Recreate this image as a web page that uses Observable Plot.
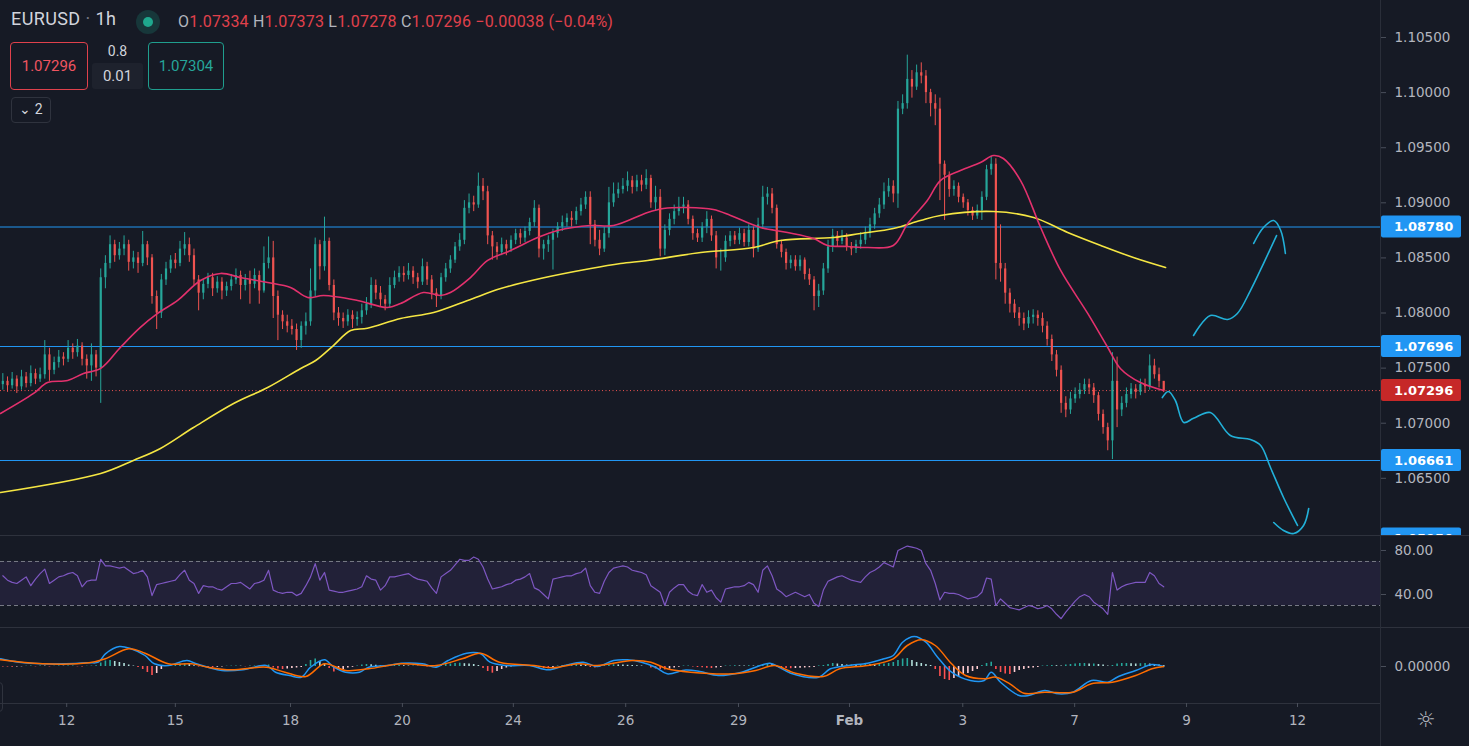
<!DOCTYPE html>
<html><head><meta charset="utf-8">
<script src="https://cdn.jsdelivr.net/npm/d3@7"></script>
<script src="https://cdn.jsdelivr.net/npm/@observablehq/plot@0.6"></script>
<style>
html,body{margin:0;padding:0;background:#161a25;}
#wrap{position:relative;width:1469px;height:746px;overflow:hidden;background:#161a25;font-family:Roboto,"Noto Sans",sans-serif;}
.pane{position:absolute;left:0;width:1469px;}
.hl{position:absolute;left:0;width:1469px;height:1px;background:#2e323d;}
.vl{position:absolute;left:1380px;top:0;width:1px;height:746px;background:#2a2e39;}
.ov{position:absolute;box-sizing:border-box;}
</style></head>
<body><div id="wrap"></div>
<script>
// ---------------- data ----------------
const W = 1469;
const firstOpen = 1.0735;
const closes = [1.0738,1.0734,1.0740,1.0733,1.0742,1.0736,1.0745,1.0740,1.0744,1.0762,
1.0748,1.0755,1.0760,1.0758,1.0768,1.0764,1.0770,1.0758,1.0752,1.0762,
1.0750,1.0832,1.0845,1.0862,1.0852,1.0858,1.0862,1.0846,1.0850,1.0845,
1.0862,1.0850,1.0815,1.0800,1.0830,1.0840,1.0848,1.0845,1.0858,1.0862,
1.0852,1.0830,1.0818,1.0826,1.0832,1.0822,1.0828,1.0820,1.0824,1.0830,
1.0834,1.0825,1.0830,1.0826,1.0834,1.0820,1.0845,1.0850,1.0815,1.0798,
1.0792,1.0788,1.0785,1.0775,1.0788,1.0792,1.0820,1.0862,1.0842,1.0865,
1.0825,1.0800,1.0795,1.0792,1.0798,1.0794,1.0796,1.0802,1.0808,1.0825,
1.0818,1.0812,1.0808,1.0825,1.0832,1.0836,1.0834,1.0838,1.0832,1.0828,
1.0842,1.0830,1.0818,1.0815,1.0832,1.0840,1.0848,1.0860,1.0866,1.0895,
1.0900,1.0898,1.0915,1.0910,1.0870,1.0860,1.0855,1.0862,1.0858,1.0866,
1.0872,1.0868,1.0874,1.0882,1.0895,1.0858,1.0862,1.0866,1.0872,1.0878,
1.0882,1.0886,1.0884,1.0892,1.0898,1.0905,1.0880,1.0866,1.0858,1.0872,
1.0900,1.0908,1.0912,1.0915,1.0920,1.0914,1.0920,1.0916,1.0922,1.0900,
1.0905,1.0858,1.0875,1.0885,1.0892,1.0896,1.0898,1.0885,1.0872,1.0868,
1.0878,1.0885,1.0870,1.0850,1.0850,1.0865,1.0870,1.0866,1.0872,1.0864,
1.0875,1.0858,1.0880,1.0905,1.0908,1.0895,1.0862,1.0855,1.0845,1.0848,
1.0842,1.0848,1.0835,1.0830,1.0815,1.0820,1.0840,1.0860,1.0870,1.0865,
1.0868,1.0860,1.0858,1.0862,1.0866,1.0872,1.0880,1.0890,1.0898,1.0910,
1.0915,1.0908,1.0985,1.0990,1.1012,1.1005,1.1018,1.1015,1.1000,1.0990,
1.0985,1.0935,1.0925,1.0912,1.0915,1.0905,1.0900,1.0893,1.0888,1.0893,
1.0905,1.0930,1.0935,1.0845,1.0840,1.0818,1.0808,1.0800,1.0795,1.0790,
1.0796,1.0798,1.0795,1.0788,1.0776,1.0762,1.0748,1.0718,1.0712,1.0722,
1.0726,1.0730,1.0735,1.0732,1.0725,1.0708,1.0696,1.0684,1.0738,1.0712,
1.0718,1.0726,1.0731,1.0728,1.0735,1.0733,1.0752,1.0744,1.0738,1.07296];
const highs = [1.0745,1.0742,1.0746,1.0743,1.0748,1.0746,1.0752,1.0749,1.0750,1.0775,
1.0768,1.0760,1.0766,1.0764,1.0775,1.0772,1.0776,1.0773,1.0762,1.0772,
1.0766,1.0840,1.0852,1.0870,1.0866,1.0864,1.0870,1.0866,1.0856,1.0855,
1.0874,1.0865,1.0853,1.0820,1.0835,1.0846,1.0852,1.0854,1.0865,1.0873,
1.0868,1.0858,1.0834,1.0830,1.0836,1.0836,1.0833,1.0832,1.0828,1.0835,
1.0840,1.0838,1.0835,1.0838,1.0840,1.0838,1.0860,1.0869,1.0865,1.0820,
1.0802,1.0798,1.0794,1.0790,1.0792,1.0800,1.0840,1.0868,1.0866,1.0887,
1.0868,1.0830,1.0805,1.0800,1.0803,1.0802,1.0801,1.0808,1.0814,1.0832,
1.0830,1.0824,1.0816,1.0832,1.0838,1.0842,1.0842,1.0845,1.0842,1.0836,
1.0849,1.0846,1.0834,1.0822,1.0836,1.0845,1.0852,1.0864,1.0872,1.0902,
1.0908,1.0906,1.0927,1.0922,1.0915,1.0874,1.0864,1.0868,1.0866,1.0870,
1.0876,1.0876,1.0878,1.0886,1.0902,1.0898,1.0866,1.0870,1.0876,1.0882,
1.0888,1.0890,1.0892,1.0896,1.0904,1.0910,1.0910,1.0884,1.0875,1.0878,
1.0914,1.0918,1.0918,1.0922,1.0928,1.0924,1.0925,1.0925,1.0930,1.0925,
1.0915,1.0912,1.0880,1.0890,1.0898,1.0905,1.0905,1.0902,1.0888,1.0876,
1.0882,1.0892,1.0888,1.0874,1.0858,1.0870,1.0874,1.0874,1.0877,1.0876,
1.0880,1.0878,1.0886,1.0915,1.0914,1.0913,1.0898,1.0866,1.0858,1.0852,
1.0852,1.0852,1.0850,1.0840,1.0833,1.0826,1.0845,1.0866,1.0876,1.0874,
1.0875,1.0872,1.0864,1.0866,1.0873,1.0878,1.0886,1.0895,1.0904,1.0918,
1.0922,1.0920,1.0992,1.0998,1.1034,1.1020,1.1025,1.1027,1.1020,1.1003,
1.0998,1.0995,1.0938,1.0928,1.0920,1.0918,1.0908,1.0903,1.0896,1.0898,
1.0910,1.0934,1.0942,1.0940,1.0880,1.0845,1.0822,1.0812,1.0805,1.0800,
1.0802,1.0803,1.0802,1.0800,1.0792,1.0780,1.0766,1.0752,1.0724,1.0728,
1.0732,1.0736,1.0740,1.0740,1.0736,1.0728,1.0712,1.0700,1.0764,1.0760,
1.0724,1.0732,1.0736,1.0735,1.0740,1.0740,1.0762,1.0758,1.0750,1.07373];
const lows = [1.0730,1.0728,1.0731,1.0727,1.0730,1.0732,1.0733,1.0735,1.0737,1.0740,
1.0738,1.0744,1.0750,1.0752,1.0755,1.0758,1.0760,1.0752,1.0740,1.0738,
1.0742,1.0718,1.0822,1.0840,1.0846,1.0848,1.0852,1.0838,1.0840,1.0836,
1.0842,1.0843,1.0808,1.0785,1.0795,1.0825,1.0836,1.0840,1.0842,1.0852,
1.0846,1.0825,1.0802,1.0812,1.0822,1.0815,1.0818,1.0812,1.0815,1.0820,
1.0826,1.0812,1.0820,1.0808,1.0822,1.0808,1.0818,1.0840,1.0795,1.0775,
1.0785,1.0782,1.0780,1.0766,1.0768,1.0780,1.0788,1.0815,1.0830,1.0838,
1.0820,1.0793,1.0788,1.0786,1.0788,1.0786,1.0788,1.0790,1.0798,1.0804,
1.0812,1.0806,1.0802,1.0804,1.0822,1.0828,1.0828,1.0830,1.0826,1.0822,
1.0825,1.0825,1.0812,1.0805,1.0812,1.0828,1.0836,1.0845,1.0856,1.0862,
1.0890,1.0892,1.0895,1.0902,1.0862,1.0848,1.0848,1.0852,1.0852,1.0855,
1.0862,1.0862,1.0864,1.0870,1.0878,1.0850,1.0848,1.0855,1.0839,1.0868,
1.0874,1.0878,1.0878,1.0880,1.0888,1.0894,1.0862,1.0860,1.0852,1.0855,
1.0868,1.0896,1.0904,1.0908,1.0910,1.0908,1.0910,1.0910,1.0912,1.0895,
1.0893,1.0851,1.0852,1.0870,1.0880,1.0888,1.0890,1.0880,1.0866,1.0864,
1.0864,1.0872,1.0865,1.0840,1.0838,1.0846,1.0860,1.0862,1.0862,1.0860,
1.0860,1.0850,1.0855,1.0876,1.0898,1.0890,1.0858,1.0850,1.0839,1.0840,
1.0838,1.0838,1.0830,1.0825,1.0802,1.0805,1.0816,1.0836,1.0855,1.0860,
1.0862,1.0856,1.0852,1.0854,1.0858,1.0862,1.0868,1.0876,1.0886,1.0894,
1.0905,1.0900,1.0895,1.0980,1.0985,1.0995,1.1002,1.1008,1.0990,1.0978,
1.0970,1.0902,1.0884,1.0905,1.0906,1.0900,1.0895,1.0888,1.0884,1.0885,
1.0884,1.0902,1.0925,1.0830,1.0828,1.0808,1.0800,1.0795,1.0788,1.0784,
1.0786,1.0790,1.0788,1.0782,1.0770,1.0756,1.0742,1.0709,1.0705,1.0708,
1.0718,1.0722,1.0726,1.0726,1.0718,1.0702,1.0690,1.0675,1.0667,1.0696,
1.0706,1.0714,1.0722,1.0722,1.0725,1.0727,1.0730,1.0740,1.0732,1.07278];

// moving averages: [bar, price]
const maFast = [[0,1.07088],[7.1,1.07270],[10.1,1.07369],[14.4,1.07388],[17.8,1.07451],[21.5,1.07497],[25.7,1.07687],[30,1.07869],[33.7,1.07996],[38,1.08114],[42.9,1.08295],[47.2,1.08359],[51.5,1.08322],[57.3,1.08277],[62.2,1.08232],[65.9,1.08141],[69.3,1.08159],[76.6,1.08114],[83,1.08050],[85.8,1.08086],[90.7,1.08186],[94.4,1.08159],[96.5,1.08186],[100.8,1.08322],[104.5,1.08477],[109.4,1.08567],[115.2,1.08685],[119.5,1.08749],[126.6,1.08794],[131.5,1.08794],[138.8,1.08912],[142.2,1.08948],[147.4,1.08957],[152.9,1.08939],[156.6,1.08885],[163,1.08776],[168.8,1.08731],[174.4,1.08676],[177.4,1.08613],[181.7,1.08604],[186,1.08594],[191.5,1.08613],[194.6,1.08812],[198.8,1.09021],[201.6,1.09202],[205.9,1.09293],[210.2,1.09366],[213,1.09429],[215.1,1.09402],[218.8,1.09202],[223.1,1.08776],[227.4,1.08386],[233.2,1.07996],[237.5,1.07687],[240.2,1.07497],[244.5,1.07369],[249.5,1.07297]];
const maSlow = [[0,1.06371],[21.5,1.06544],[28.5,1.06662],[34.3,1.06771],[41.4,1.06961],[50,1.07179],[57.3,1.07324],[64.4,1.07497],[67.6,1.07569],[71.4,1.07705],[75.1,1.07841],[78.7,1.07861],[85.8,1.07950],[92.9,1.08005],[100.2,1.08114],[107.3,1.08222],[115.8,1.08313],[126.6,1.08404],[133,1.08449],[138.8,1.08477],[150.2,1.08549],[161.5,1.08594],[167.3,1.08658],[178.7,1.08685],[184.5,1.08722],[191.5,1.08767],[197.3,1.08839],[201.6,1.08885],[213,1.08921],[221.6,1.08867],[228.9,1.08731],[236,1.08613],[243,1.08504],[249.9,1.08413]];

// hand-drawn forecast strokes: [bar, price]
const drawUp = [[255.9,1.07796],[259.5,1.07977],[263.2,1.07941],[265.3,1.07996],[268.1,1.08204],[270.9,1.08449],[273.7,1.08703]];
const drawUpTip = [[268.8,1.08631],[270.9,1.08776],[273.1,1.08839],[274.6,1.08749],[275.6,1.08540]];
const drawDown = [[249.2,1.07233],[250.5,1.07288],[252.0,1.07206],[253.8,1.07007],[255.9,1.07044],[259.5,1.07097],[263.8,1.06889],[268.1,1.06852],[270.3,1.06798],[272.4,1.06598],[275.2,1.06326],[278.2,1.06072]];
const drawDownTip = [[273.1,1.06099],[275.2,1.06027],[277.4,1.05999],[279.5,1.06072],[280.6,1.06226]];

const levels = [1.08780, 1.07696, 1.06661];
const levelHidden = 1.05950;
const lastPrice = 1.07296;
const priceTicks = [1.065,1.070,1.075,1.080,1.085,1.090,1.095,1.100,1.105];
const priceDomain = [1.05981, 1.10836];

const rsi = [57,53,51,50,53,56,48,54,59,63,
50,53,56,57,59,60,57,47,52,53,
53,72,66,66,65,64,65,62,59,60,
62,56,39,49,50,51,52,53,58,62,
53,50,41,48,47,47,45,44,47,50,
50,51,48,45,50,51,53,62,44,42,
41,42,42,39,41,48,56,68,53,60,
44,43,42,42,43,44,45,47,57,54,
53,44,48,56,56,57,58,59,56,54,
53,52,46,41,56,59,62,67,72,71,
71,74,72,65,54,45,46,47,49,50,
53,54,56,59,46,44,40,36,54,55,
56,57,57,59,60,64,48,42,41,52,
60,64,65,66,65,62,61,60,58,48,
45,42,30,42,46,49,49,43,40,39,
49,42,44,37,33,45,46,47,47,48,
51,49,42,62,66,57,45,42,38,40,
42,40,38,40,32,29,44,52,54,56,
57,55,53,52,51,56,60,62,65,69,
67,65,80,82,84,83,82,80,68,62,
50,35,42,41,41,40,38,36,37,38,
42,55,54,30,36,32,28,27,26,28,
30,29,27,28,30,27,22,18,24,29,
34,38,40,38,33,30,27,22,60,44,
47,49,50,51,51,51,60,57,50,47];
const rsiBand = [30, 70];
const rsiTicks = [40, 80];
const rsiDomain = [10.9, 91.8];

const macdLine = [[0,0.00077],[4,0.00043],[9,0.00027],[14,0.00027],[19,0.00037],[21,0.00043],[22.5,0.00127],[25.5,0.0020],[28,0.00177],[31,0.0011],[33,0.00027],[36,0.0001],[40,0.0006],[42,0.00027],[44.5,-0.00007],[47.5,-0.0004],[52,-0.00033],[57,0.0001],[59,-0.00057],[62,-0.0009],[64.5,-0.00107],[66.5,-0.00007],[69.5,0.00067],[71.5,-0.00007],[74,-0.00057],[77,-0.00057],[79,-0.00007],[83,0.0001],[86,0.00033],[90.5,0.00027],[93.5,-0.00007],[96,0.0006],[100,0.00133],[103,0.00127],[105,0.00043],[108.5,0.0001],[113.5,0.0001],[117.5,-0.00033],[121,0.0001],[125,0.00043],[128,0],[131.5,0.0006],[134.5,0.00067],[137.5,0.00043],[140.5,-0.00007],[143,-0.00073],[147,-0.00035],[150,-0.0005],[154,-0.0009],[159,-0.00057],[165,0.00033],[167,-0.00007],[169.5,-0.00067],[175.5,-0.00107],[178,-0.00023],[182,0.0001],[186,0.00033],[189.5,0.00077],[191.5,0.0011],[193.5,0.00243],[196,0.003],[198.5,0.00243],[201,0.00093],[204,-0.00057],[208,-0.0014],[211,-0.0014],[212.5,-0.00057],[214.5,-0.00157],[218.5,-0.0029],[220.5,-0.0029],[224,-0.0024],[227,-0.00273],[230,-0.00257],[234,-0.0014],[237.5,-0.00157],[239.5,-0.00107],[243.5,-0.0004],[247,0.0002],[249.5,0]];
const signalLine = [[0,0.00067],[9,0.00027],[19,0.00037],[22.5,0.00077],[27.5,0.00177],[31,0.00133],[36,0.00027],[41,0.00027],[44.5,-0.00007],[49.5,-0.00033],[57,-0.00007],[61,-0.00057],[65.5,-0.001],[69.5,0.00027],[74,-0.0004],[79,-0.00023],[86,0.00027],[93.5,0.0001],[99,0.00077],[103,0.00133],[107,0.00043],[114.5,0.0001],[118.5,-0.00013],[124,0.00027],[128,0.0001],[135.5,0.0006],[139.5,0.00043],[143,-0.00023],[148,-0.00057],[157,-0.00073],[162,-0.0004],[166,0.0001],[170.5,-0.00067],[176.5,-0.001],[180,-0.00023],[186,0.0001],[191.5,0.00077],[194.5,0.0021],[197.5,0.00267],[200.5,0.0021],[204,0.00027],[207,-0.0009],[211,-0.00123],[213.5,-0.00107],[216.5,-0.00173],[219.5,-0.00267],[224,-0.00257],[230,-0.00257],[234,-0.00173],[238.5,-0.00157],[243.5,-0.0009],[247,-0.00023],[249.5,0]];
const hist = [-0.00005,-0.00005,-0.00008,-0.00006,-0.00003,0.00003,0.00004,-0.00003,0.00005,0.00004,
-0.00004,0.00003,0.00005,0.00003,0.00004,0.00005,-0.00003,-0.00006,0.00002,0.00004,
0.00008,0.00035,0.00055,0.0006,0.0005,0.0004,0.0003,0.00015,0.00005,-0.0001,
-0.0003,-0.0006,-0.0009,-0.0007,-0.0003,0.00008,0.00015,0.0002,0.00025,0.00027,
0.0002,0.00008,-0.00005,-0.00008,-0.0001,-0.00012,-0.00008,-0.00005,0.00003,0.00004,
0.00005,0.00003,-0.00003,0.00004,0.00005,0.00003,0.00008,0.00015,-0.00015,-0.00025,
-0.0003,-0.00025,-0.0002,-0.00015,-0.0001,0.0002,0.0006,0.00075,0.0005,0.0003,
-0.0002,-0.00055,-0.0004,-0.0003,-0.00015,-0.00008,0.00005,0.00015,0.0002,0.00018,
0.00012,0.00005,-0.00005,0.00008,0.0001,0.00012,0.00008,0.00005,0.00006,0.00003,
0.00002,-0.00005,-0.0001,-0.00004,0.0001,0.0002,0.00025,0.0003,0.00033,0.00028,
0.00025,0.0002,0.0001,-0.0002,-0.0005,-0.00067,-0.0005,-0.0003,-0.00015,-0.00005,
0.00003,0.00005,0.00006,0.00008,-0.00008,-0.00015,-0.0002,-0.00022,-0.0001,0.00005,
0.0001,0.00015,0.00018,0.0002,0.00015,0.0001,-0.0001,-0.00015,-0.00005,0.0001,
0.00015,0.00018,0.00016,0.00015,0.00012,0.0001,0.00008,0.00005,0,-0.00015,
-0.00025,-0.0003,-0.00035,-0.00025,-0.00015,-0.00008,0.00005,0.00005,-0.00005,-0.0001,
-0.00012,-0.00018,-0.0002,-0.00015,-0.0001,0.00005,0.00005,0.00008,0.00006,0.00005,
0.00008,0.00005,0.00008,0.0002,0.00025,0.0002,-0.00005,-0.00015,-0.0002,-0.00022,
-0.0002,-0.00018,-0.00015,-0.00012,-0.0001,0.00006,0.0001,0.0002,0.0003,0.00025,
0.0002,0.00015,0.00015,0.00012,0.00015,0.0002,0.00018,0.00015,0.0002,0.00025,
0.0003,0.0004,0.0006,0.00075,0.0008,0.0006,0.0004,0.0003,0.0002,0.0001,
-0.0003,-0.001,-0.0013,-0.0014,-0.0012,-0.001,-0.0008,-0.0007,-0.0005,-0.0003,
0.0001,0.0003,0.00043,-0.0003,-0.0006,-0.00075,-0.0008,-0.0006,-0.0004,-0.0003,
-0.0002,-0.00015,-0.0001,0.00005,0.00008,0.0001,0.00008,0.00005,0.00015,0.0002,
0.00025,0.0003,0.0003,0.00025,0.00025,0.0002,0.00015,0.00005,0.0001,0.00025,
0.0003,0.0003,0.00028,0.00025,0.00028,0.0003,0.00025,0.0002,0.00015,0.0001];
const macdTicks = [0];
const macdDomain = [-0.0037, 0.0038];

const timeTickPos = [14.2, 37.5, 62.2, 86.2, 110, 134.1, 158.3, 182.1, 206.4, 230.4, 254.4, 278.2];
const timeTickLabels = ["12","15","18","20","24","26","29","Feb","3","7","9","12"];
const xDomain = [0, 296];

// ---------------- styling ----------------
const UP = "#26a69a", DOWN = "#ef5350";
const AXIS = "#b2b5be";
const FONT = "DejaVu Sans";
const baseStyle = {background: "transparent", color: AXIS, fontFamily: FONT, fontSize: "13.5px", overflow: "visible"};
const fmtPrice = d3.format(".5f");

const candles = closes.map((c, i) => {
  const o = i === 0 ? firstOpen : closes[i - 1];
  return {x: i + 0.5, o, h: highs[i], l: lows[i], c, col: c >= o ? UP : DOWN};
});
const histRows = hist.map((v, i) => {
  const p = i === 0 ? 0 : hist[i - 1];
  const col = v >= 0 ? (v >= p ? "#26a69a" : "#b2dfdb") : (v <= p ? "#ff5252" : "#ffcdd2");
  return {x: i + 0.5, v, col};
});

const wrap = document.getElementById("wrap");
function pane(top, h, clip) {
  const d = document.createElement("div");
  d.className = "pane";
  d.style.top = top + "px";
  d.style.height = h + "px";
  if (clip) d.style.overflow = "hidden";
  wrap.appendChild(d);
  return d;
}
function styleTicks(svg) {
  d3.select(svg).selectAll('g[aria-label$="tick"] path, g[aria-label$="tick"] line').attr("stroke", "#4a4f5b");
}

// ---------------- price panel ----------------
const pricePlot = Plot.plot({
  width: W, height: 535, marginLeft: 0, marginRight: 89, marginTop: 0, marginBottom: 0,
  style: baseStyle,
  color: {type: "identity"},
  x: {domain: xDomain, axis: null},
  y: {domain: priceDomain, axis: null},
  marks: [
    Plot.ruleY(levels, {stroke: "#2196f3", strokeWidth: 1.1}),
    Plot.ruleY([lastPrice], {stroke: "#ef5350", strokeWidth: 1, strokeDasharray: "1,2.5"}),
    Plot.ruleX(candles, {x: "x", y1: "l", y2: "h", stroke: "col", strokeWidth: 1}),
    Plot.ruleX(candles, {x: "x", y1: "o", y2: "c", stroke: "col", strokeWidth: 2.2}),
    Plot.line(maSlow, {x: d => d[0], y: d => d[1], stroke: "#f5e643", strokeWidth: 1.6, curve: "catmull-rom"}),
    Plot.line(maFast, {x: d => d[0], y: d => d[1], stroke: "#e3316d", strokeWidth: 1.6, curve: "catmull-rom"}),
    Plot.line(drawUp, {x: d => d[0], y: d => d[1], stroke: "#22b0d8", strokeWidth: 1.6, curve: "catmull-rom"}),
    Plot.line(drawUpTip, {x: d => d[0], y: d => d[1], stroke: "#22b0d8", strokeWidth: 1.6, curve: "catmull-rom"}),
    Plot.line(drawDown, {x: d => d[0], y: d => d[1], stroke: "#22b0d8", strokeWidth: 1.6, curve: "catmull-rom"}),
    Plot.line(drawDownTip, {x: d => d[0], y: d => d[1], stroke: "#22b0d8", strokeWidth: 1.6, curve: "catmull-rom"}),
    Plot.axisY({anchor: "right", label: null, ticks: priceTicks, tickFormat: fmtPrice, tickSize: 5, tickPadding: 9})
  ]
});
styleTicks(pricePlot);
{
  const ys = pricePlot.scale("y");
  const g = d3.select(pricePlot).append("g").attr("text-anchor", "start");
  const items = levels.map(v => ({v, fill: "#2196f3"}))
    .concat([{v: lastPrice, fill: "#c62828"}, {v: levelHidden, fill: "#2196f3"}]);
  for (const it of items) {
    const cy = ys.apply(it.v);
    g.append("rect").attr("x", 1381).attr("y", cy - 11).attr("width", 80).attr("height", 22).attr("rx", 2).attr("fill", it.fill);
    g.append("text").attr("x", 1394).attr("y", cy).attr("dy", "0.36em").attr("fill", "#ffffff").attr("text-anchor", "start")
      .attr("font-family", FONT).attr("font-size", 13).attr("font-weight", "bold").text(fmtPrice(it.v));
  }
}
pane(0, 535, true).appendChild(pricePlot);

// ---------------- RSI panel ----------------
const rsiPlot = Plot.plot({
  width: W, height: 89, marginLeft: 0, marginRight: 89, marginTop: 0, marginBottom: 0,
  style: baseStyle,
  x: {domain: xDomain, axis: null},
  y: {domain: rsiDomain, axis: null},
  marks: [
    Plot.rect([rsiBand], {x1: xDomain[0], x2: xDomain[1], y1: d => d[0], y2: d => d[1], fill: "#7e57c2", fillOpacity: 0.12}),
    Plot.ruleY(rsiBand, {stroke: "#787b86", strokeWidth: 1, strokeDasharray: "4,3"}),
    Plot.line(rsi, {x: (d, i) => i + 0.5, y: d => d, stroke: "#7e57c2", strokeWidth: 1.2}),
    Plot.axisY({anchor: "right", label: null, ticks: rsiTicks, tickFormat: d3.format(".2f"), tickSize: 5, tickPadding: 9})
  ]
});
styleTicks(rsiPlot);
pane(537, 89, true).appendChild(rsiPlot);

// ---------------- MACD panel + time axis ----------------
const labelOf = new Map(timeTickPos.map((p, i) => [p, timeTickLabels[i]]));
const macdPlot = Plot.plot({
  width: W, height: 118, marginLeft: 0, marginRight: 89, marginTop: 0, marginBottom: 43,
  style: baseStyle,
  color: {type: "identity"},
  x: {domain: xDomain, label: null},
  y: {domain: macdDomain, axis: null, label: null},
  marks: [
    Plot.ruleX(histRows, {x: "x", y1: 0, y2: "v", stroke: "col", strokeWidth: 1.6}),
    Plot.line(macdLine, {x: d => d[0], y: d => d[1], stroke: "#2196f3", strokeWidth: 1.5, curve: "catmull-rom"}),
    Plot.line(signalLine, {x: d => d[0], y: d => d[1], stroke: "#ff6d00", strokeWidth: 1.5, curve: "catmull-rom"}),
    Plot.ruleY([macdDomain[0]], {stroke: "#2e323d", strokeWidth: 1}),
    Plot.axisY({anchor: "right", label: null, ticks: macdTicks, tickFormat: d3.format(".5f"), tickSize: 5, tickPadding: 9}),
    Plot.axisX({anchor: "bottom", label: null, ticks: timeTickPos, tickFormat: d => labelOf.get(d), tickSize: 4, tickPadding: 8})
  ]
});
styleTicks(macdPlot);
d3.select(macdPlot).selectAll("text").filter(function(){ return this.textContent === "Feb"; }).attr("font-weight", "bold");
pane(628, 118, false).appendChild(macdPlot);

// ---------------- frame lines ----------------
for (const y of [535, 627]) {
  const l = document.createElement("div"); l.className = "hl"; l.style.top = y + "px"; wrap.appendChild(l);
}
const vl = document.createElement("div"); vl.className = "vl"; wrap.appendChild(vl);

// ---------------- header / legend overlay ----------------
function ov(html, css) {
  const d = document.createElement("div");
  d.className = "ov";
  d.innerHTML = html;
  Object.assign(d.style, css);
  wrap.appendChild(d);
  return d;
}
const RED = "#e0414c";
ov("EURUSD<span style='color:#787b86'> · </span>1h", {left: "11px", top: "8px", color: "#d1d4dc", fontSize: "18px", letterSpacing: "0.4px", whiteSpace: "nowrap"});
ov("", {left: "136px", top: "10px", width: "24px", height: "24px", borderRadius: "12px", background: "#17373a"});
ov("", {left: "143px", top: "17px", width: "10px", height: "10px", borderRadius: "5px", background: "#1fa88e"});
ov(`<span style="color:#b2b5be">O</span>1.07334 <span style="color:#b2b5be">H</span>1.07373 <span style="color:#b2b5be">L</span>1.07278 <span style="color:#b2b5be">C</span>1.07296 −0.00038 (−0.04%)`,
   {left: "178px", top: "12px", color: RED, fontSize: "16px", letterSpacing: "0.2px", whiteSpace: "nowrap"});
ov("1.07296", {left: "10px", top: "42px", width: "78px", height: "48px", border: "1px solid #e0414c", borderRadius: "4px",
   color: "#f05561", fontSize: "15px", lineHeight: "46px", textAlign: "center"});
ov("0.8", {left: "92px", top: "41px", width: "51px", height: "20px", color: "#d1d4dc", fontSize: "14px", textAlign: "center", lineHeight: "20px"});
ov("0.01", {left: "92px", top: "63px", width: "51px", height: "26px", background: "#1e222d", borderRadius: "3px", color: "#d1d4dc", fontSize: "15px", textAlign: "center", lineHeight: "26px"});
ov("1.07304", {left: "148px", top: "42px", width: "76px", height: "48px", border: "1px solid #1f9e8e", borderRadius: "4px",
   color: "#26a69a", fontSize: "15px", lineHeight: "46px", textAlign: "center"});
ov("⌄ 2", {left: "11px", top: "97px", width: "40px", height: "26px", border: "1px solid #2f333e", borderRadius: "4px",
   color: "#d1d4dc", fontSize: "14px", lineHeight: "22px", textAlign: "center"});
ov("", {left: "-10px", top: "682px", width: "13px", height: "30px", border: "1px solid #2f333e", borderRadius: "4px"});
ov("☼", {left: "1416px", top: "707px", color: "#b2b5be", fontSize: "22px", fontFamily: "DejaVu Sans", lineHeight: "26px"});
</script></body></html>
